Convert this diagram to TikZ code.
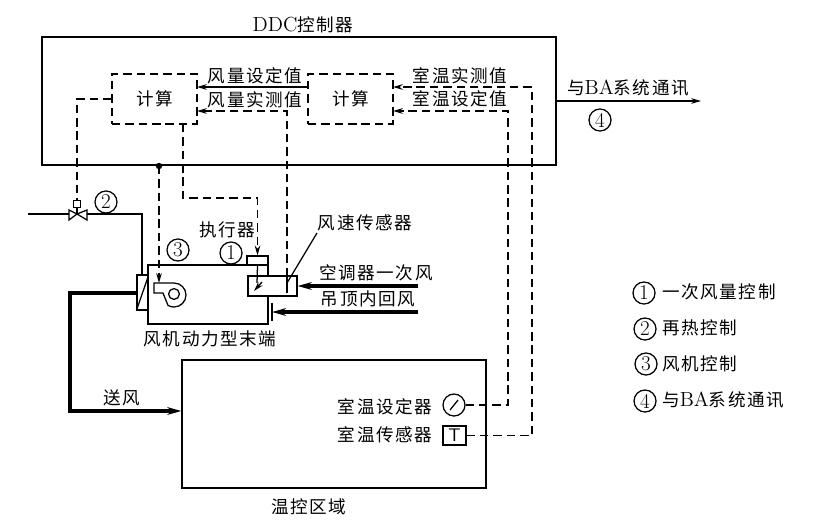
\documentclass[tikz,border=0pt]{standalone}
\usepackage{fontspec}
\usetikzlibrary{arrows.meta, positioning, calc}
\newfontfamily\cjk[LetterSpace=9]{Noto Sans CJK SC}
\newcommand\ltn[1]{{\rmfamily\fontsize{14.5}{14}\selectfont #1}}
\tikzset{
  box/.style     = {draw, inner sep=0pt, line width=0.9pt},
  calcbox/.style = {draw, dashed, dash pattern=on 6pt off 3.5pt, inner sep=0pt, line width=0.9pt,
                    minimum width=2.125cm, minimum height=1.25cm, font=\cjk\fontsize{12.5}{14}\selectfont},
  lbl/.style     = {inner sep=0pt, font=\cjk\fontsize{12.5}{14}\selectfont},
  num/.style     = {circle, draw, inner sep=0pt, minimum size=0.55cm, line width=0.9pt, font=\fontsize{15}{15}\selectfont},
  line/.style    = {line width=0.9pt},
  ctrl/.style    = {line width=0.9pt, dash pattern=on 6pt off 3.5pt},
  arrow/.style   = {-{Stealth[length=7pt,width=4pt]}},
  air/.style     = {line width=2.2pt, -{Stealth[length=10pt,width=5.5pt]}},
}
\begin{document}
\begin{tikzpicture}[x=0.025cm, y=-0.025cm, line join=miter]
  \useasboundingbox (0,0) rectangle (814,526);
  % controller
  \node[box, minimum width=12.85cm, minimum height=3.2cm] (ddc) at (299,101) {};
  \node[lbl] (ddclabel) at (303,25) {\ltn{DDC}控制器};
  \node[calcbox] (calcA) at (154.5,99) {计算};
  \node[calcbox] (calcB) at (350.5,99) {计算};
  \node[lbl] (setA) at (255,76) {风量设定值};
  \node[lbl] (measA) at (255,100) {风量实测值};
  \node[lbl] (measB) at (460,76) {室温实测值};
  \node[lbl] (setB) at (460,99) {室温设定值};
  \coordinate (dot) at (159,166);
  \fill (dot) circle (3.2);
  % terminal unit
  \node[box, minimum width=3cm, minimum height=1.475cm] (unit) at (208,294.5) {};
  \node[box, fill=white, minimum width=0.275cm, minimum height=0.875cm] (coil) at (142.5,292.5) {};
  \node[box, fill=white, minimum width=1.225cm, minimum height=0.5cm] (damper) at (272.5,286) {};
  \node[box, fill=white, minimum width=0.525cm, minimum height=0.225cm] (act) at (257.5,260.5) {};
  \node[circle, draw, line width=0.9pt, inner sep=0pt, minimum size=0.27cm] (hub) at (174,294) {};
  \draw[line] (154,283) -- (174,283) arc[start angle=-90, end angle=120, radius=12] -- (163,293) -- (154,293) -- cycle;
  \draw[line] (coil.south west) -- (148,277);
  \draw[line] (272,303) -- (272,321);
  \coordinate (speed) at (287,276);
  \draw[line] (speed) -- (287,293);
  \coordinate (blade) at (257,283);
  \draw[line] (act.south) -- (blade);
  \draw[line, arrow] (262,282) -- (254,291);
  \node[lbl] (unitlabel) at (210,339) {风机动力型末端};
  \node[lbl] (actlabel) at (227,230) {执行器};
  \node[lbl] (speedlabel) at (365,223) {风速传感器};
  \node[lbl] (prilabel) at (376,273) {空调器一次风};
  \node[lbl] (retlabel) at (368,299) {吊顶内回风};
  \coordinate (lead) at (317,233);
  \draw[line] (lead) -- (speed |- 0,283);
  % valve
  \coordinate (valve) at (77,214);
  \node[box, minimum size=0.16cm] (stem) at (77,204) {};
  \draw[line] (valve) -- (stem.south);
  \draw[line] (valve) -- (69,210) -- (69,220) -- cycle;
  \draw[line] (valve) -- (87,210) -- (87,220) -- cycle;
  \coordinate (inlet) at (28,214);
  \coordinate (bend) at (142,214);
  \draw[line] (inlet) -- (69,214);
  \draw[line] (87,214) -- (bend) -- (bend |- coil.north);
  % zone
  \node[box, minimum width=7.6cm, minimum height=3.2cm] (zone) at (334,424) {};
  \node[lbl] (zonelabel) at (309,507) {温控区域};
  \node[lbl] (setterlabel) at (385,407) {室温设定器};
  \node[lbl] (tslabel) at (385,435) {室温传感器};
  \node[circle, draw, line width=0.9pt, inner sep=0pt, minimum size=0.55cm] (setter) at (454,405) {};
  \draw[line] (450,410) -- (458,400);
  \node[box, minimum width=0.575cm, minimum height=0.475cm, font=\sffamily\fontsize{13}{14}\selectfont] (ts) at (454.5,435.5) {T};
  % air
  \coordinate (pri) at (418,286);
  \coordinate (ret) at (418,312);
  \draw[air] (pri) -- (damper.east |- pri);
  \draw[air] (ret) -- (272,312);
  \coordinate (elbow) at (70,411);
  \draw[air] (coil.west |- 0,293) -- (70,293) -- (elbow) -- (zone.west |- elbow);
  \node[lbl] (supply) at (122,398) {送风};
  % signals
  \coordinate (rA) at (197,87);
  \coordinate (rB) at (197,111);
  \coordinate (rC) at (393,87);
  \coordinate (rD) at (393,111);
  \draw[line, arrow] (calcB.west |- rA) -- (rA);
  \draw[ctrl, arrow] (speed) -- (speed |- rB) -- (rB);
  \draw[ctrl, arrow] (ts.east) -- (532,435.5) -- (532,87) -- (rC);
  \draw[ctrl, arrow] (setter.east) -- (508,405) -- (508,111) -- (rD);
  \draw[ctrl] (calcA.west) -- (77,99) -- (stem.north);
  \draw[ctrl, arrow] (dot) -- (159,283);
  \coordinate (outA) at (183,124);
  \coordinate (turn) at (183,198);
  \draw[ctrl, arrow] (outA) -- (turn) -- (257.5,198) -- (act.north);
  \coordinate (ba) at (701,101);
  \draw[line, arrow] (ddc.east |- ba) -- (ba);
  \node[lbl] (balabel) at (628,88) {与\ltn{BA}系统通讯};
  % numbers
  \node[num] (n1) at (231,253) {1};
  \node[num] (n2) at (106,202) {2};
  \node[num] (n3) at (178,250) {3};
  \node[num] (n4) at (600,120) {4};
  % legend
  \node[num] (k1) at (644,293) {1};
  \node[num] (k2) at (645,329) {2};
  \node[num] (k3) at (646,364) {3};
  \node[num] (k4) at (645,401) {4};
  \node[lbl, anchor=west] (t1) at (662,292) {一次风量控制};
  \node[lbl, anchor=west] (t2) at (662,328) {再热控制};
  \node[lbl, anchor=west] (t3) at (662,364) {风机控制};
  \node[lbl, anchor=west] (t4) at (662,400) {与\ltn{BA}系统通讯};
\end{tikzpicture}
\end{document}
